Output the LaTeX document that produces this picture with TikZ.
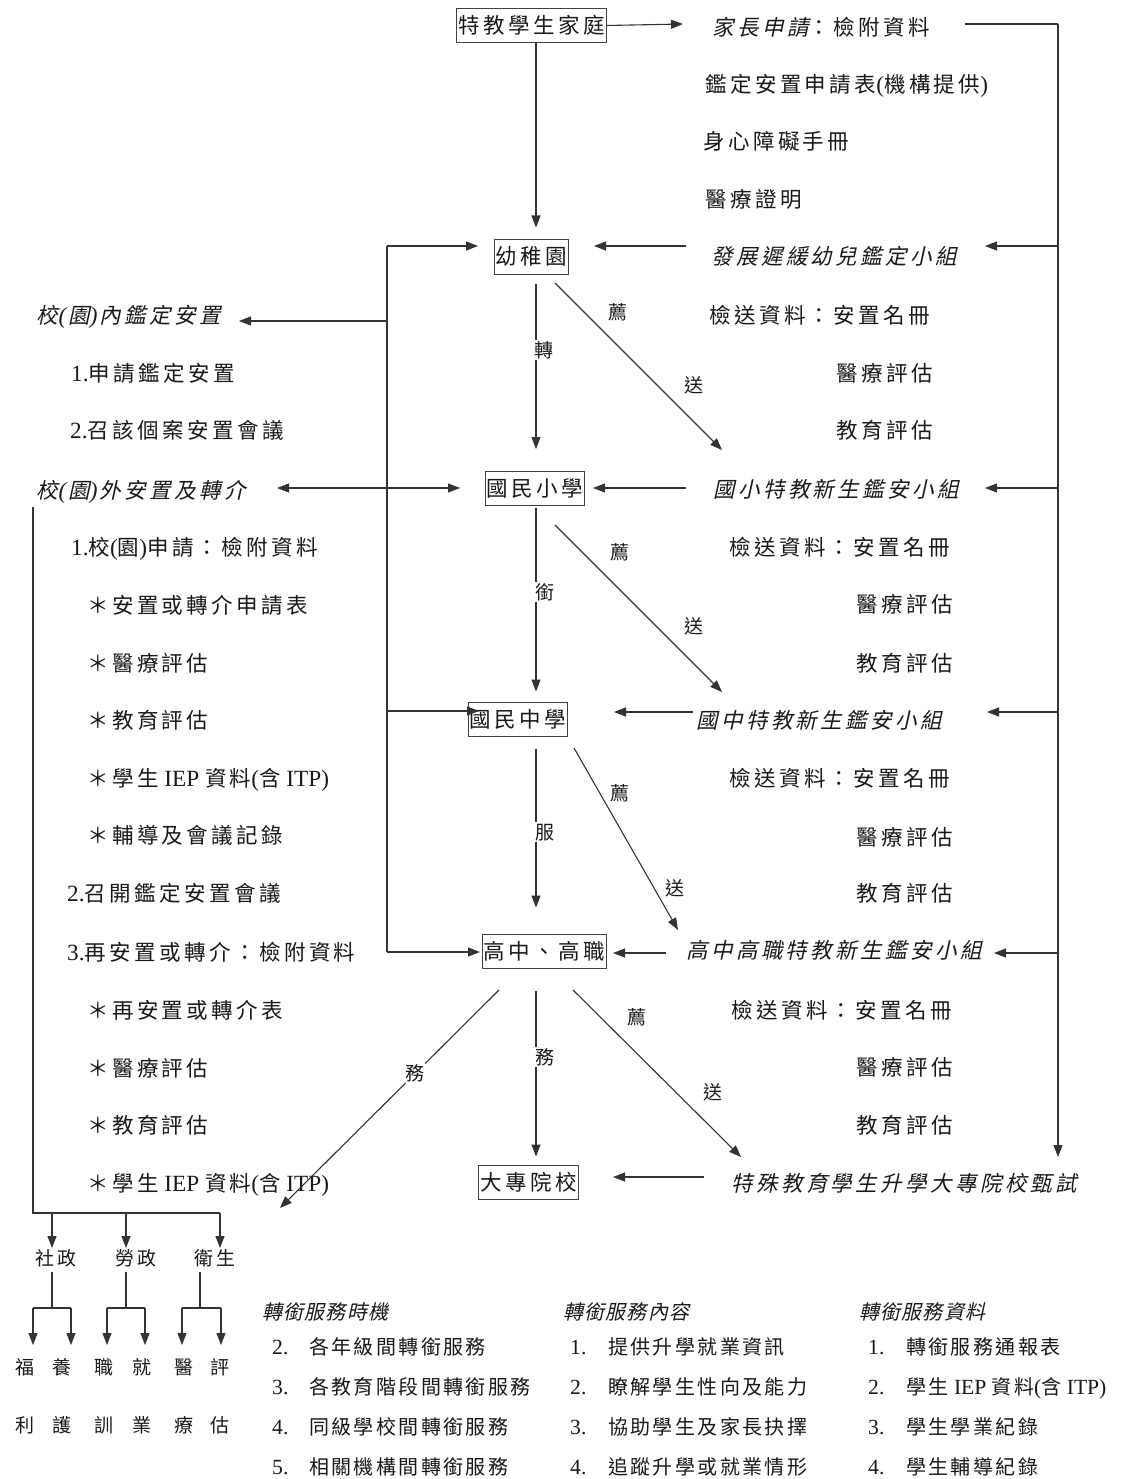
\documentclass[tikz,border=0pt]{standalone}
\usepackage{fontspec}
\setmainfont[Scale=1.08]{Liberation Serif}
\newfontfamily\cjk[LetterSpace=16]{Noto Sans CJK TC}
\newfontfamily\cjki[LetterSpace=16,FakeSlant=0.22]{Noto Sans CJK TC}
\newfontfamily\cjks[LetterSpace=12]{Noto Sans CJK TC}
\newfontfamily\cjksi[LetterSpace=6,FakeSlant=0.22]{Noto Sans CJK TC}
\usetikzlibrary{arrows.meta}
\newcommand\tm[1]{{\rmfamily\upshape #1}}
\newcommand\tmi[1]{{\rmfamily\itshape #1}}
\begin{document}
\begin{tikzpicture}[x=1pt,y=-1pt,
  base/.style={font=\cjk\fontsize{21.5}{24}\selectfont, text height=19pt, text depth=3pt, inner sep=0pt, text=black!90},
  lft/.style={base, anchor=west},
  rgt/.style={base, anchor=east},
  itl/.style={lft, font=\cjki\fontsize{21.5}{24}\selectfont},
  stage/.style={base, draw=black!75, line width=1pt, inner xsep=1.5pt, inner ysep=6pt},
  lbl/.style={base, font=\cjk\fontsize{19}{21}\selectfont, text height=17pt, text depth=2pt, fill=white, inner sep=0.5pt},
  sml/.style={lft, font=\cjks\fontsize{20}{22}\selectfont, text height=18pt, text depth=3pt},
  smli/.style={sml, font=\cjksi\fontsize{20}{22}\selectfont},
  numb/.style={sml, font=\rmfamily\fontsize{20}{22}\selectfont},
  chr/.style={base, font=\cjk\fontsize{19}{21}\selectfont, text height=17pt, text depth=2pt},
  conn/.style={line width=1.1pt, draw=black!80},
  arr/.style={conn, -{Triangle[length=12pt,width=9pt]}},
  darr/.style={conn, {Triangle[length=12pt,width=9pt]}-{Triangle[length=12pt,width=9pt]}}]
\useasboundingbox[fill=white] (0,0) rectangle (1132,1479);

% ---------- main column boxes
\node[stage] (fam) at (531.5,25.5) {特教學生家庭};
\node[stage] (kg) at (531.5,257) {幼稚園};
\node[stage] (elem) at (535,488.5) {國民小學};
\node[stage] (jh) at (518,719) {國民中學};
\node[stage] (sh) at (544.5,951) {高中、高職};
\node[stage] (univ) at (528.5,1182) {大專院校};
\coordinate (cx) at (536,0);

% ---------- right side texts
\node[lft] (p1) at (712,28) {{\cjki 家長申請}：檢附資料};
\node[lft] (p2) at (705,85) {鑑定安置申請表\tm{(}機構提供\tm{)}};
\node[lft] (p3) at (703,142) {身心障礙手冊};
\node[lft] (p4) at (705,200) {醫療證明};
\node[itl] (dev) at (711,257) {發展遲緩幼兒鑑定小組};
\node[lft] (k1) at (709,315) {檢送資料：安置名冊};
\node[rgt] (k2) at (933,373) {醫療評估};
\node[rgt] (k3) at (933,430) {教育評估};
\node[itl] (elg) at (713,489) {國小特教新生鑑安小組};
\node[lft] (e1) at (729,547) {檢送資料：安置名冊};
\node[rgt] (e2) at (953,604) {醫療評估};
\node[rgt] (e3) at (953,663) {教育評估};
\node[itl] (jhg) at (696,720) {國中特教新生鑑安小組};
\node[lft] (j1) at (729,778) {檢送資料：安置名冊};
\node[rgt] (j2) at (953,837) {醫療評估};
\node[rgt] (j3) at (953,893) {教育評估};
\node[itl] (shg) at (686,950) {高中高職特教新生鑑安小組};
\node[lft] (s1) at (731,1010) {檢送資料：安置名冊};
\node[rgt] (s2) at (953,1067) {醫療評估};
\node[rgt] (s3) at (953,1125) {教育評估};
\node[itl] (exam) at (731,1183) {特殊教育學生升學大專院校甄試};

% ---------- left side texts
\node[itl] (in0) at (36,315) {校\kern1pt\tmi{(}\kern2pt園\tmi{)}\kern2pt內鑑定安置};
\node[lft] (in1) at (71,373) {\tm{1.}申請鑑定安置};
\node[lft] (in2) at (70,430) {\tm{2.}召該個案安置會議};
\node[itl] (out0) at (36,490) {校\kern1pt\tmi{(}\kern2pt園\tmi{)}\kern2pt外安置及轉介};
\node[lft] (o1) at (71,547) {\tm{1.}校\tm{(}園\tm{)}申請：檢附資料};
\node[lft] (o2) at (87,605) {＊安置或轉介申請表};
\node[lft] (o3) at (87,663) {＊醫療評估};
\node[lft] (o4) at (87,720) {＊教育評估};
\node[lft] (o5) at (87,778) {＊學生\tm{ IEP }資料\tm{(}含\tm{ ITP)}};
\node[lft] (o6) at (87,835) {＊輔導及會議記錄};
\node[lft] (o7) at (67,893) {\tm{2.}召開鑑定安置會議};
\node[lft] (o8) at (67,952) {\tm{3.}再安置或轉介：檢附資料};
\node[lft] (o9) at (87,1010) {＊再安置或轉介表};
\node[lft] (o10) at (87,1068) {＊醫療評估};
\node[lft] (o11) at (87,1125) {＊教育評估};
\node[lft] (o12) at (87,1183) {＊學生\tm{ IEP }資料\tm{(}含\tm{ ITP)}};

% ---------- agencies
\node[chr] (soc) at (56,1258) {社政};
\node[chr] (lab) at (136,1258) {勞政};
\node[chr] (hea) at (215,1258) {衛生};
\node[chr] (a1) at (25,1367) {福};
\node[chr] (a2) at (62,1367) {養};
\node[chr] (a3) at (104,1367) {職};
\node[chr] (a4) at (142,1367) {就};
\node[chr] (a5) at (184,1367) {醫};
\node[chr] (a6) at (220,1367) {評};
\node[chr] (b1) at (25,1425) {利};
\node[chr] (b2) at (62,1425) {護};
\node[chr] (b3) at (104,1425) {訓};
\node[chr] (b4) at (142,1425) {業};
\node[chr] (b5) at (184,1425) {療};
\node[chr] (b6) at (220,1425) {估};

% ---------- bottom lists
\node[smli] (h1) at (262,1312) {轉銜服務時機};
\node[smli] (h2) at (563,1312) {轉銜服務內容};
\node[smli] (h3) at (859,1312) {轉銜服務資料};
\foreach \n/\t [count=\i] in {2/各年級間轉銜服務,3/各教育階段間轉銜服務,4/同級學校間轉銜服務,5/相關機構間轉銜服務}{
  \node[numb] (tn\i) at (272,1307+40*\i) {\n.};
  \node[sml] (tt\i) at (309,1307+40*\i) {\t};
}
\foreach \n/\t [count=\i] in {1/提供升學就業資訊,2/瞭解學生性向及能力,3/協助學生及家長抉擇,4/追蹤升學或就業情形}{
  \node[numb] (cn\i) at (570,1307+40*\i) {\n.};
  \node[sml] (ct\i) at (608,1307+40*\i) {\t};
}
\foreach \n/\t [count=\i] in {1/轉銜服務通報表,2/{學生\tm{ IEP }資料\tm{(}含\tm{ ITP)}},3/學生學業紀錄,4/學生輔導紀錄}{
  \node[numb] (dn\i) at (868,1307+40*\i) {\n.};
  \node[sml] (dt\i) at (906,1307+40*\i) {\t};
}

% ---------- vertical flow
\draw[arr, shorten >=12pt] (fam.south -| cx) -- (kg.north -| cx);
\draw[arr, shorten <=9pt, shorten >=22pt] (kg.south -| cx) -- (elem.north -| cx);
\draw[arr, shorten <=2pt, shorten >=10pt] (elem.south -| cx) -- (jh.north -| cx);
\draw[arr, shorten <=12pt, shorten >=26pt] (jh.south -| cx) -- (sh.north -| cx);
\draw[arr, shorten <=22pt, shorten >=8pt] (sh.south -| cx) -- (univ.north -| cx);
\node[lbl] (l1) at (544,350) {轉};
\node[lbl] (l2) at (545,592) {銜};
\node[lbl] (l3) at (545,832) {服};
\node[lbl] (l4) at (545,1057) {務};

% ---------- diagonals
\coordinate (d1a) at (555,283); \coordinate (d1b) at (722,450);
\coordinate (d2a) at (555,525); \coordinate (d2b) at (722,692);
\coordinate (d3a) at (574,748); \coordinate (d3b) at (678,930);
\coordinate (d4a) at (573,990); \coordinate (d4b) at (741,1157);
\coordinate (d5a) at (499,990); \coordinate (d5b) at (280,1208);
\draw[arr] (d1a) -- (d1b);
\draw[arr] (d2a) -- (d2b);
\draw[arr] (d3a) -- (d3b);
\draw[arr] (d4a) -- (d4b);
\draw[arr] (d5a) -- (d5b);
\node[lbl, fill=none] (r1) at (618,312) {薦};
\node[lbl, fill=none] (r2) at (694,385) {送};
\node[lbl, fill=none] (r3) at (620,552) {薦};
\node[lbl, fill=none] (r4) at (694,626) {送};
\node[lbl, fill=none] (r5) at (620,793) {薦};
\node[lbl, fill=none] (r6) at (675,888) {送};
\node[lbl, fill=none] (r7) at (637,1017) {薦};
\node[lbl, fill=none] (r8) at (713,1092) {送};
\node[lbl] (r9) at (415,1073) {務};

% ---------- top right
\coordinate (rt0) at (965,24);
\coordinate (rt1) at (1058,24);
\coordinate (rt2) at (1058,1157);
\coordinate (p1a) at (683,24);
\draw[arr] (fam.east) -- (p1a);
\draw[conn] (rt0) -- (rt1);
\draw[arr] (rt1) -- (rt2);
\draw[arr] (1058,246) -- (985,246);
\draw[arr] (1058,488) -- (985,488);
\draw[arr] (1058,712) -- (987,712);
\draw[arr] (1058,953) -- (994,953);
\draw[arr] (686,246) -- (594,246);
\draw[arr] (686,488) -- (593,488);
\draw[arr] (693,712) -- (614,712);
\draw[arr] (666,953) -- (613,953);
\draw[arr] (704,1177) -- (613,1177);

% ---------- left
\coordinate (lv0) at (387,246);
\coordinate (lv1) at (387,952);
\draw[conn] (lv0) -- (lv1);
\draw[arr] (lv0) -- (478,246);
\draw[arr] (387,321) -- (239,321);
\draw[darr] (277,488) -- (460,488);
\draw[arr] (387,711) -- (479,711);
\draw[arr] (lv1) -- (480,952);

% ---------- far left
\coordinate (fl0) at (33,507);
\coordinate (fl1) at (33,1213);
\coordinate (fl2) at (220,1213);
\draw[conn] (fl0) -- (fl1) -- (fl2);
\draw[arr] (52,1213) -- (52,1248);
\draw[arr] (126,1213) -- (126,1248);
\draw[arr] (fl2) -- (220,1248);
\foreach \c/\l/\r in {52/33/71,126/107/145,200/182/221}{
  \draw[conn] (\c,1272) -- (\c,1308);
  \draw[arr] (\l,1308) -- (\l,1345);
  \draw[arr] (\r,1308) -- (\r,1345);
  \draw[conn] (\l,1308) -- (\r,1308);
}
\end{tikzpicture}
\end{document}
